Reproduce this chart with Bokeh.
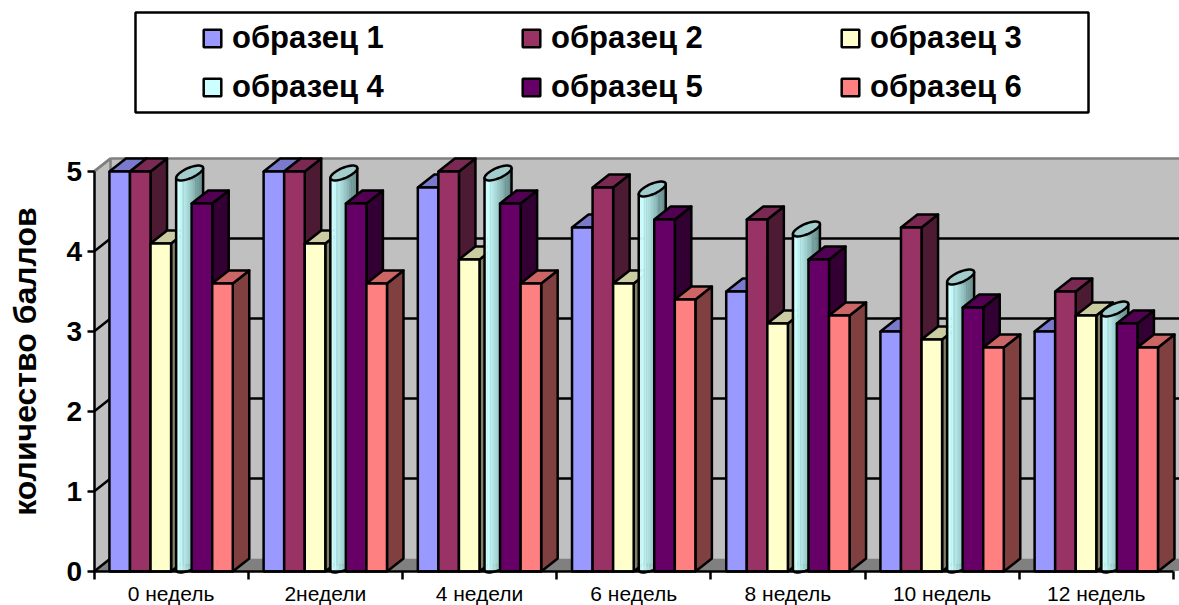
from bokeh.embed import file_html
from bokeh.resources import INLINE
from bokeh.plotting import figure
from bokeh.models import Range1d, FixedTicker, Legend, LegendItem, BoxAnnotation, Label
import numpy as np

categories = ["0 недель", "2недели", "4 недели", "6 недель", "8 недель", "10 недель", "12 недель"]
series_names = ["образец 1", "образец 2", "образец 3", "образец 4", "образец 5", "образец 6"]
y_title = "количество баллов"
s1 = [5.0, 5.0, 4.8, 4.3, 3.5, 3.0, 3.0]
s2 = [5.0, 5.0, 5.0, 4.8, 4.4, 4.3, 3.5]
s3 = [4.1, 4.1, 3.9, 3.6, 3.1, 2.9, 3.2]
s4 = [4.9, 4.9, 4.9, 4.7, 4.2, 3.6, 3.2]
s5 = [4.6, 4.6, 4.6, 4.4, 3.9, 3.3, 3.1]
s6 = [3.6, 3.6, 3.6, 3.4, 3.2, 2.8, 2.8]
series = [s1, s2, s3, s4, s5, s6]
front = ["#9999FF", "#993366", "#FFFFCC", "#CCFFFF", "#660066", "#FF8080"]
top_c = ["#7A7ACC", "#7A2952", "#CCCCA3", "#A3CCCC", "#520052", "#CC6666"]
side = ["#4D4D80", "#4D1A33", "#808066", "#668080", "#330033", "#804040"]

W, H = 1179, 605
X0, Y0 = 93.5, 571        # pixel position of the origin
UX, UY = 154.2, 80.0      # pixels per group, pixels per value unit
DX, DY = 16.5 / UX, 13 / UY # 3D depth in data units
BAR = 1 / 7.5             # six bars plus a 150% gap
LW = 2.5
n = len(categories)

p = figure(width=W, height=H, output_backend="svg", toolbar_location=None,
           x_range=Range1d(-X0 / UX, (W - X0) / UX),
           y_range=Range1d(-(H - Y0) / UY, Y0 / UY),
           min_border=0, min_border_left=0, min_border_right=0,
           min_border_top=0, min_border_bottom=0,
           outline_line_color=None, background_fill_color="white",
           x_axis_location="below", y_axis_location="left")
p.grid.visible = False

XEND, TOP = n, 5.0
WALL_TOP = TOP + DY

# walls and floor
p.patch([DX, W / UX, W / UX, DX], [DY, DY, WALL_TOP, WALL_TOP], fill_color="#C0C0C0", line_color=None)
p.patch([0, DX, DX, 0], [0, DY, WALL_TOP, TOP], fill_color="#C0C0C0", line_color=None)
p.patch([0, DX, W / UX, XEND], [0, DY, DY, 0], fill_color="#808080", line_color=None)
p.line([0, DX, DX], [TOP, WALL_TOP, DY], line_color="#808080", line_width=LW)
p.line([DX, W / UX], [WALL_TOP, WALL_TOP], line_color="#808080", line_width=LW)
# gridlines on the walls
for v in range(0, 6):
    if v == 0:
        p.line([0, DX], [0, DY], line_color="#000000", line_width=LW)
    elif v == 5:
        p.line([0, DX], [v, v + DY], line_color="#808080", line_width=LW)
    else:
        p.line([0, DX, W / UX], [v, v + DY, v + DY], line_color="#000000", line_width=LW)

legend_by_series = {}
for k, vals in enumerate(series):
    lefts = [i + 0.75 * BAR + k * BAR for i in range(n)]
    rights = [l + BAR for l in lefts]
    if k != 3:
        p.patches([[r, r + DX, r + DX, r] for r in rights],
                  [[0, DY, v + DY, v] for v in vals],
                  fill_color=side[k], line_color="#000000", line_width=LW, line_join="round")
        p.patches([[l, r, r + DX, l + DX] for l, r in zip(lefts, rights)],
                  [[v, v, v + DY, v + DY] for v in vals],
                  fill_color=top_c[k], line_color="#000000", line_width=LW, line_join="round")
        r = p.quad(left=lefts, right=rights, bottom=0, top=vals,
                   fill_color=front[k], line_color="#000000", line_width=LW)
        legend_by_series[k] = LegendItem(label=series_names[k], renderers=[r])
    else:
        a = 13.5 / UX
        b = 5.5 / UY
        shear = 5.0 / UY
        steps = 18
        # core of the cylinder: hidden under the shaded strips, gives the legend swatch
        base = p.quad(left=[l + DX / 2 + BAR / 2 - a / 2 for l in lefts],
                      right=[l + DX / 2 + BAR / 2 + a / 2 for l in lefts],
                      bottom=[DY / 2 for _ in lefts], top=[v for v in vals],
                      fill_color=front[k], line_color="#000000", line_width=LW)
        legend_by_series[k] = LegendItem(label=series_names[k], renderers=[base])
        c0, c1 = np.array([204, 255, 255]), np.array([92, 128, 128])
        for s in range(steps):
            t0, t1 = s / steps, (s + 1) / steps
            u0, u1 = 2 * t0 - 1, 2 * t1 - 1
            f = max(0.0, (t0 - 0.12) / 0.88)
            col = c0 + (c1 - c0) * f
            colhex = "#%02x%02x%02x" % tuple(int(x) for x in col)
            xs, ys = [], []
            for l, v in zip(lefts, vals):
                cx = l + DX / 2 + BAR / 2
                yb = DY / 2
                xs.append([cx + a * u0, cx + a * u1, cx + a * u1, cx + a * u0])
                ys.append([yb + shear * u0 - b * np.sqrt(1 - u0 * u0),
                           yb + shear * u1 - b * np.sqrt(1 - u1 * u1),
                           v + DY / 2 + shear * u1, v + DY / 2 + shear * u0])
            p.patches(xs, ys, fill_color=colhex, line_color=colhex, line_width=0.5)
        # silhouette and top ellipse
        th = np.linspace(0, 2 * np.pi, 49)
        xs, ys, sx, sy = [], [], [], []
        uu = np.linspace(-1, 1, 25)
        for l, v in zip(lefts, vals):
            cx = l + DX / 2 + BAR / 2
            yt = v + DY / 2
            xs.append(list(cx + a * np.cos(th)))
            ys.append(list(yt + shear * np.cos(th) + b * np.sin(th)))
            sx.append(list(cx + a * uu) + [cx + a, cx - a])
            sy.append(list(DY / 2 + shear * uu - b * np.sqrt(1 - uu * uu)) + [yt + shear, yt - shear])
        p.patches(sx, sy, fill_color=None, line_color="#000000", line_width=LW)
        p.patches(xs, ys, fill_color=top_c[k], line_color="#000000", line_width=LW)

# axes
p.yaxis.fixed_location = 0
p.yaxis.bounds = (0, 5)
p.yaxis.ticker = FixedTicker(ticks=[0, 1, 2, 3, 4, 5])
p.yaxis.minor_tick_line_color = None
p.yaxis.major_tick_out = 7
p.yaxis.major_tick_in = 0
p.yaxis.axis_line_width = LW
p.yaxis.major_tick_line_width = LW
p.yaxis.major_label_text_font = "Liberation Sans"
p.yaxis.major_label_text_font_style = "bold"
p.yaxis.major_label_text_font_size = "28px"
p.yaxis.major_label_text_color = "#000000"
p.yaxis.major_label_standoff = 5

p.add_layout(Label(x=24, y=H - 361, x_units="screen", y_units="screen", text=y_title,
                   angle=np.pi / 2, text_align="center", text_baseline="middle",
                   text_font="Liberation Sans", text_font_style="bold",
                   text_font_size="32px", text_color="#000000"))

p.xaxis.fixed_location = 0
p.xaxis.bounds = (0, n)
p.xaxis.ticker = FixedTicker(ticks=[i + 0.5 for i in range(n)], minor_ticks=list(range(n + 1)))
p.xaxis.major_label_overrides = {i + 0.5: c for i, c in enumerate(categories)}
p.xaxis.major_tick_line_color = None
p.xaxis.minor_tick_in = 0
p.xaxis.minor_tick_out = 8
p.xaxis.minor_tick_line_color = "#000000"
p.xaxis.minor_tick_line_width = LW
p.xaxis.axis_line_width = LW
p.xaxis.major_label_text_font = "Liberation Sans"
p.xaxis.major_label_text_font_size = "21px"
p.xaxis.major_label_text_color = "#000000"
p.xaxis.major_label_standoff = 2

# legend box and legend
p.add_layout(BoxAnnotation(left=135, right=1088, top=H - 12, bottom=H - 112,
                           left_units="screen", right_units="screen",
                           top_units="screen", bottom_units="screen",
                           fill_color="white", fill_alpha=1, line_color="#000000",
                           line_width=LW, line_alpha=1))
leg = Legend(items=[legend_by_series[i] for i in (0, 3, 1, 4, 2, 5)], ncols=3,
             location=(201, H - 106), padding=0, margin=0,
             spacing=10, glyph_width=22, glyph_height=22, label_standoff=9,
             label_width=278, label_height=39,
             label_text_font="Liberation Sans", label_text_font_style="bold",
             label_text_font_size="31px", label_text_color="#000000",
             background_fill_alpha=0, border_line_color=None)
p.add_layout(leg, "center")

open("out.html", "w").write(file_html(p, INLINE))
